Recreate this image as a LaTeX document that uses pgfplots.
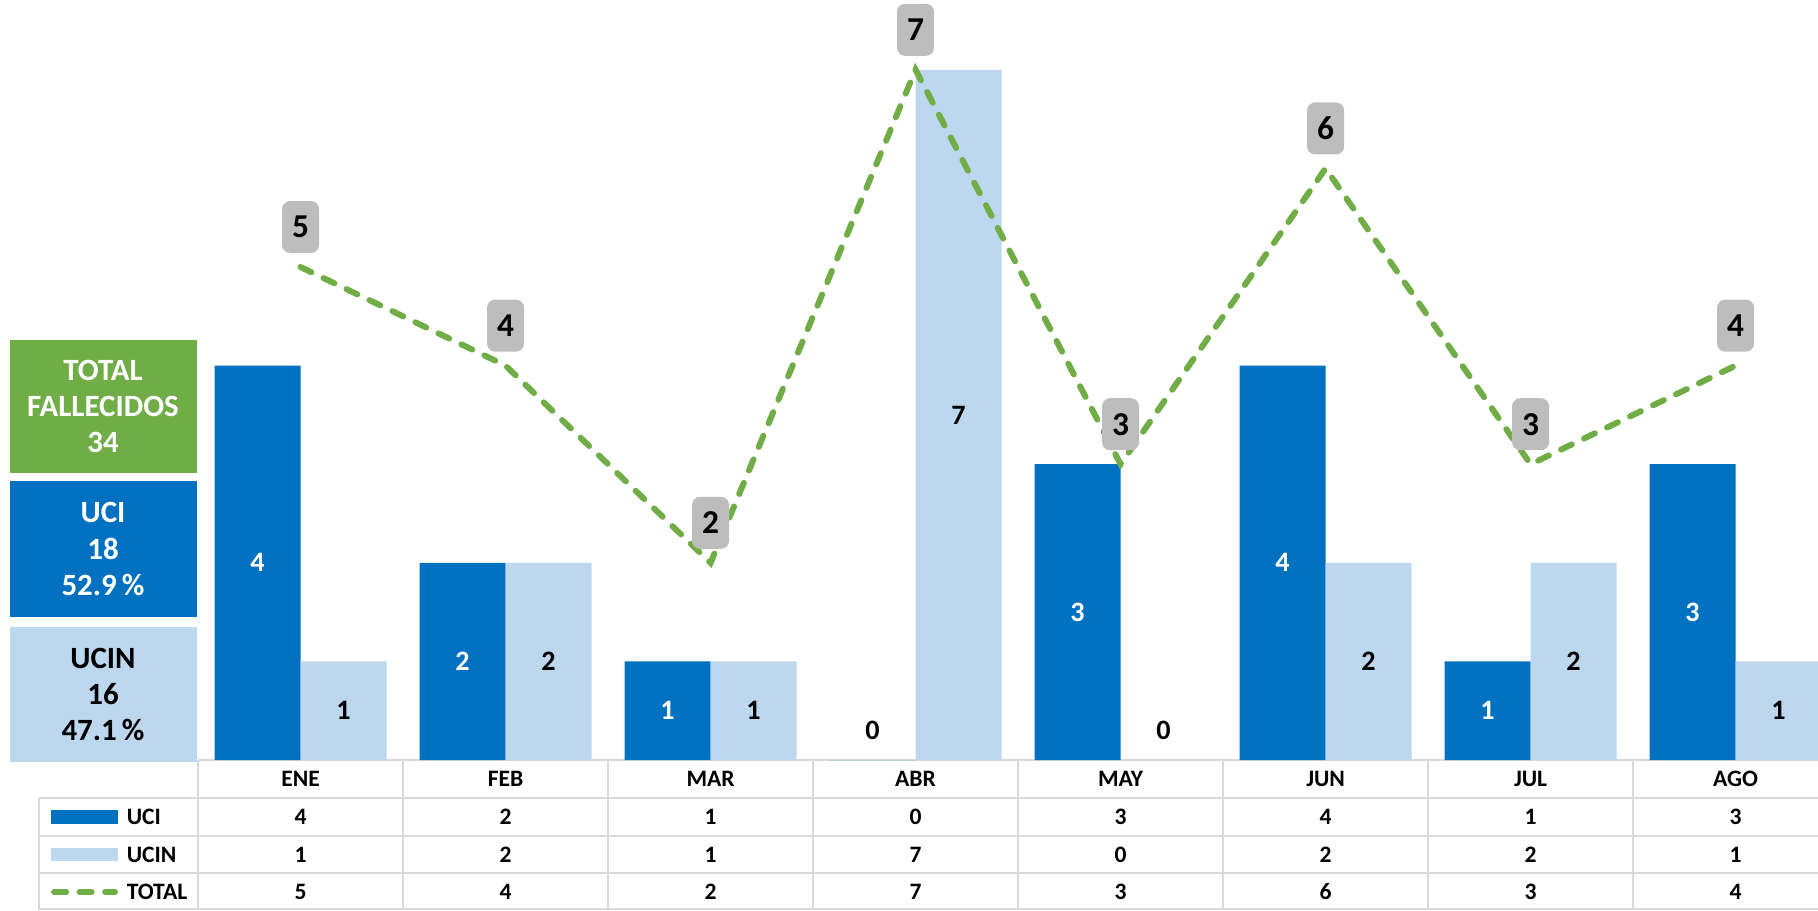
\documentclass[border=0pt]{standalone}
\usepackage{fontspec}
\setmainfont{Carlito}
\usepackage{pgfplots}
\usepackage{pgfplotstable}
\pgfplotsset{compat=1.18}

\definecolor{uci}{RGB}{0,112,192}
\definecolor{ucin}{RGB}{189,215,238}
\definecolor{total}{RGB}{112,173,71}
\definecolor{lblgray}{RGB}{189,189,189}
\definecolor{gridgray}{RGB}{217,217,217}

\pgfplotstableread{
mes UCI UCIN TOTAL
ENE 4 1 5
FEB 2 2 4
MAR 1 1 2
ABR 0 7 7
MAY 3 0 3
JUN 4 2 6
JUL 1 2 3
AGO 3 1 4
}\datos

\begin{document}
\begin{tikzpicture}
\begin{axis}[
    x=20.5mm, y=9.86mm,
    xmin=-0.5, xmax=7.5, ymin=0, ymax=7.7,
    hide axis, clip=false,
]
    % table grid
    \draw[gridgray, line width=0.2mm] (axis cs:-0.5,0) -- (axis cs:7.5,0);
    \pgfplotsinvokeforeach{-0.385,-0.771,-1.146,-1.515}{
        \draw[gridgray, line width=0.2mm] (axis cs:-1.276,#1) -- (axis cs:7.5,#1);
    }
    \pgfplotsinvokeforeach{-0.5,0.5,1.5,2.5,3.5,4.5,5.5,6.5,7.5}{
        \draw[gridgray, line width=0.2mm] (axis cs:#1,0) -- (axis cs:#1,-1.521);
    }
    \draw[gridgray, line width=0.2mm] (axis cs:-1.276,-0.385) -- (axis cs:-1.276,-1.521);

    % bars
    \addplot[ybar, bar width=8.6mm, bar shift=-4.3mm, fill=uci, draw=none]
        table[x expr=\coordindex, y=UCI]{\datos};
    \addplot[ybar, bar width=8.6mm, bar shift=4.3mm, fill=ucin, draw=none]
        table[x expr=\coordindex, y=UCIN]{\datos};

    % bar labels
    \addplot[draw=none, mark=none, point meta=explicit symbolic,
        nodes near coords={\ifnum\pgfplotspointmeta=0 \textcolor{black}{0}\else\textcolor{white}{\pgfplotspointmeta}\fi},
        every node near coord/.append style={anchor=center, font=\fontsize{8}{9}\selectfont\bfseries}]
        table[x expr=\coordindex-0.2098, y expr={max(\thisrow{UCI}/2,0.3)}, meta=UCI]{\datos};
    \addplot[draw=none, mark=none, point meta=explicit symbolic,
        nodes near coords={\pgfplotspointmeta},
        every node near coord/.append style={anchor=center, text=black, font=\fontsize{8}{9}\selectfont\bfseries}]
        table[x expr=\coordindex+0.2098, y expr={max(\thisrow{UCIN}/2,0.3)}, meta=UCIN]{\datos};

    % total line
    \addplot[sharp plot, draw=total, line width=0.6mm, line cap=round,
        dash pattern=on 1.2mm off 1.35mm, mark=none,
        point meta=explicit symbolic,
        nodes near coords={\pgfplotspointmeta},
        every node near coord/.append style={anchor=center, yshift=4mm, fill=lblgray,
            rounded corners=0.8mm, minimum width=3.7mm, minimum height=5.2mm,
            inner sep=0pt, text=black, solid, font=\fontsize{9.5}{10}\selectfont\bfseries}]
        table[x expr=\coordindex, y=TOTAL, meta=TOTAL]{\datos};

    % table text
    \addplot[draw=none, mark=none, point meta=explicit symbolic,
        nodes near coords={\pgfplotspointmeta},
        every node near coord/.append style={anchor=center, text=black, font=\fontsize{6.7}{7}\selectfont\bfseries}]
        table[x expr=\coordindex, y expr=-0.193, meta=mes]{\datos};
    \addplot[draw=none, mark=none, point meta=explicit symbolic,
        nodes near coords={\pgfplotspointmeta},
        every node near coord/.append style={anchor=center, text=black, font=\fontsize{6.7}{7}\selectfont\bfseries}]
        table[x expr=\coordindex, y expr=-0.578, meta=UCI]{\datos};
    \addplot[draw=none, mark=none, point meta=explicit symbolic,
        nodes near coords={\pgfplotspointmeta},
        every node near coord/.append style={anchor=center, text=black, font=\fontsize{6.7}{7}\selectfont\bfseries}]
        table[x expr=\coordindex, y expr=-0.958, meta=UCIN]{\datos};
    \addplot[draw=none, mark=none, point meta=explicit symbolic,
        nodes near coords={\pgfplotspointmeta},
        every node near coord/.append style={anchor=center, text=black, font=\fontsize{6.7}{7}\selectfont\bfseries}]
        table[x expr=\coordindex, y expr=-1.334, meta=TOTAL]{\datos};

    % legend column
    \fill[uci] (axis cs:-1.217,-0.648) rectangle (axis cs:-0.890,-0.508);
    \fill[ucin] (axis cs:-1.217,-1.028) rectangle (axis cs:-0.890,-0.888);
    \draw[total, line width=0.6mm, line cap=round, dash pattern=on 1.2mm off 1.35mm]
        (axis cs:-1.202,-1.334) -- (axis cs:-0.905,-1.334);
    \node[anchor=west, inner sep=0pt, font=\fontsize{6.7}{7}\selectfont\bfseries]
        at (axis cs:-0.851,-0.578) {UCI};
    \node[anchor=west, inner sep=0pt, font=\fontsize{6.7}{7}\selectfont\bfseries]
        at (axis cs:-0.851,-0.958) {UCIN};
    \node[anchor=west, inner sep=0pt, font=\fontsize{6.7}{7}\selectfont\bfseries]
        at (axis cs:-0.851,-1.334) {TOTAL};

    % summary boxes
    \fill[total] (axis cs:-1.417,2.91) rectangle (axis cs:-0.505,4.26);
    \fill[uci] (axis cs:-1.417,1.45) rectangle (axis cs:-0.505,2.83);
    \fill[ucin] (axis cs:-1.417,-0.02) rectangle (axis cs:-0.505,1.35);
    \node[align=center, text=white, font=\fontsize{8.8}{10.3}\selectfont\bfseries]
        at (axis cs:-0.9635,3.585) {TOTAL\\FALLECIDOS\\34};
    \node[align=center, text=white, font=\fontsize{8.8}{10.3}\selectfont\bfseries]
        at (axis cs:-0.9635,2.14) {UCI\\18\\52.9\,\%};
    \node[align=center, text=black, font=\fontsize{8.8}{10.3}\selectfont\bfseries]
        at (axis cs:-0.9635,0.665) {UCIN\\16\\47.1\,\%};

    \coordinate (bbll) at (axis cs:-1.466,-1.521);
    \coordinate (bbur) at (axis cs:7.402,7.708);
\end{axis}
\pgfresetboundingbox
\useasboundingbox (bbll) rectangle (bbur);
\end{tikzpicture}
\end{document}
